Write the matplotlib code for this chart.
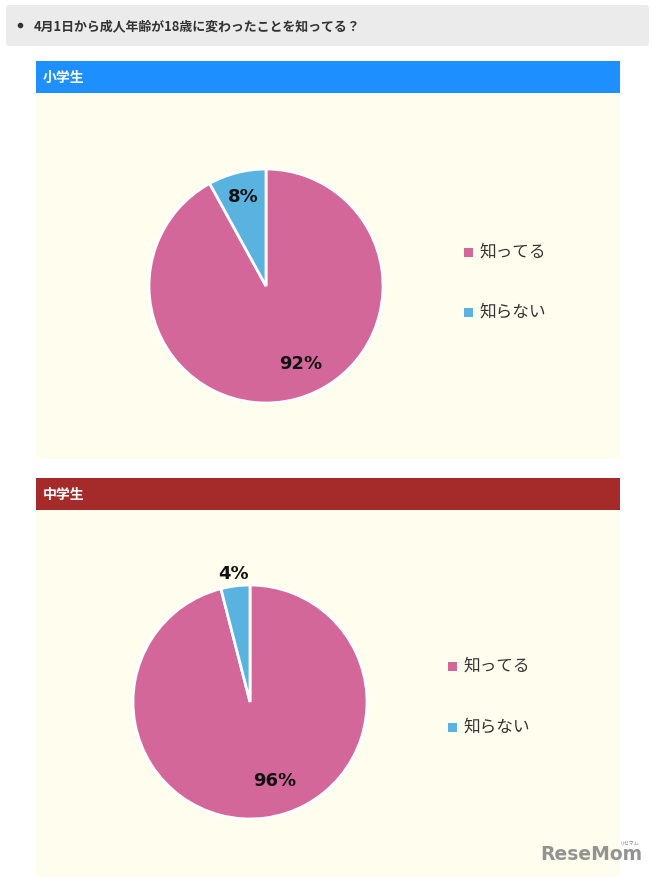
#!/usr/bin/env python3
import matplotlib

matplotlib.use("Agg")
import matplotlib.pyplot as plt
import numpy as np
from matplotlib.patches import FancyBboxPatch, Rectangle

W, H = 653, 878
DPI = 100
OUTPUT_PATH = "out.png"

plt.rcParams["font.family"] = ["Noto Sans CJK JP", "DejaVu Sans"]

QUESTION = "4月1日から成人年齢が18歳に変わったことを知ってる？"
CATEGORIES = ["知ってる", "知らない"]
GROUPS = ["小学生", "中学生"]
SHARES = [[92, 8], [96, 4]]

PIE_COLORS = ["#d4679a", "#5ab3de"]
HEADER_COLORS = ["#1e8ffe", "#a52a2a"]
BODY_COLOR = "#fffeee"
TEXT_COLOR = "#333333"

# panel layout in pixels: header top, body bottom, pie centre, legend x
PANELS = [
    dict(top=62, bottom=460, cx=266, cy=287, leg_x=464, leg_y=(253, 313)),
    dict(top=479, bottom=878, cx=250, cy=703, leg_x=448, leg_y=(667, 728)),
]
RADIUS = 117
# label placement (angle offset in degrees, radius fraction) per wedge
LABEL_POS = [[(10, 0.72), (0, 0.79)], [(10, 0.70), (0, 1.11)]]


def px_axes(fig, cx, cy, r):
    return fig.add_axes([(cx - r) / W, 1 - (cy + r) / H, 2 * r / W, 2 * r / H])


def main() -> None:
    fig = plt.figure(figsize=(W / DPI, H / DPI), dpi=DPI)
    fig.patch.set_facecolor("white")

    bg = fig.add_axes([0, 0, 1, 1])
    bg.set_xlim(0, W)
    bg.set_ylim(H, 0)
    bg.axis("off")

    # question box
    bg.add_patch(FancyBboxPatch((6, 6), 643, 41, boxstyle="round,pad=0,rounding_size=3",
                                facecolor="#ebebeb", edgecolor="none"))
    bg.plot([20], [26], "o", ms=3, color=TEXT_COLOR)
    bg.text(34, 26, QUESTION, fontsize=9.3, fontweight="bold", color=TEXT_COLOR,
            ha="left", va="center")

    for gi, (group, shares, panel) in enumerate(zip(GROUPS, SHARES, PANELS)):
        top, bottom = panel["top"], panel["bottom"]
        bg.add_patch(Rectangle((36, top + 32), 584, bottom - top - 32,
                               facecolor=BODY_COLOR, edgecolor="none"))
        bg.add_patch(Rectangle((36, top), 584, 32, facecolor=HEADER_COLORS[gi],
                               edgecolor="none"))
        bg.text(43, top + 16, group, fontsize=10, fontweight="bold", color="white",
                ha="left", va="center")

        ax = px_axes(fig, panel["cx"], panel["cy"], RADIUS)
        wedges, _ = ax.pie(shares, colors=PIE_COLORS, startangle=90, counterclock=False,
                           radius=1, wedgeprops=dict(edgecolor="white", linewidth=2))
        ax.set_xlim(-1, 1)
        ax.set_ylim(-1, 1)
        ax.axis("off")

        for wi, (w, val) in enumerate(zip(wedges, shares)):
            dang, rfrac = LABEL_POS[gi][wi]
            mid = np.deg2rad(0.5 * (w.theta1 + w.theta2) + dang)
            ax.text(rfrac * np.cos(mid), rfrac * np.sin(mid), f"{val}%",
                    fontsize=13, fontweight="bold", color="#111111",
                    family="DejaVu Sans", ha="center", va="center")

        for ci, cat in enumerate(CATEGORIES):
            ly = panel["leg_y"][ci]
            lx = panel["leg_x"]
            bg.add_patch(Rectangle((lx, ly - 4.5), 9, 9, facecolor=PIE_COLORS[ci],
                                   edgecolor="none"))
            bg.text(lx + 15, ly - 1, cat, fontsize=12, color=TEXT_COLOR,
                    ha="left", va="center")

    bg.text(591, 855, "ReseMom", fontsize=13.5, fontweight="bold", color="#808080",
            family="DejaVu Sans", ha="center", va="center", alpha=0.85)
    bg.text(630, 843, "リセマム", fontsize=3.5, color="#808080", ha="center", va="center")

    fig.savefig(OUTPUT_PATH, dpi=DPI)
    plt.close(fig)


if __name__ == "__main__":
    main()
